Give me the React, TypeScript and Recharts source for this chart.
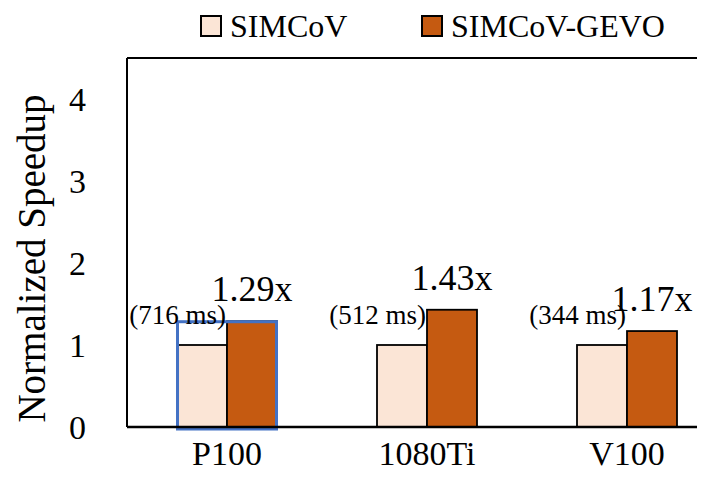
import React from 'react';
import { BarChart, Bar, XAxis, YAxis, Legend, LabelList, Label, ReferenceLine } from 'recharts';

const categories = ['P100', '1080Ti', 'V100'];
const simcovSpeedup = [1, 1, 1];
const gevoSpeedup = [1.29, 1.43, 1.17];
const baselineMs = [716, 512, 344];
const yTicks = [0, 1, 2, 3, 4];
const yMax = 4.5;
const highlighted = 'P100';

const data = categories.map((c, i) => ({
  name: c,
  simcov: simcovSpeedup[i],
  gevo: gevoSpeedup[i],
  ms: baselineMs[i],
}));

const FONT = '"Liberation Serif", "Times New Roman", serif';
const SIMCOV_FILL = '#FBE5D6';
const GEVO_FILL = '#C55A11';

const SimcovShape = (props: any) => {
  const { x, y, width, height, fill } = props;
  return <rect x={x} y={y} width={width} height={height} fill={fill} stroke="#000" strokeWidth={1.8} />;
};

const GevoShape = (props: any) => {
  const { x, y, width, height, fill, payload } = props;
  return (
    <g>
      <rect x={x} y={y} width={width} height={height} fill={fill} stroke="#000" strokeWidth={1.8} />
      {payload && payload.name === highlighted && (
        <rect
          x={x - width + 0.5}
          y={y + 0.5}
          width={width * 2 - 1}
          height={height + 1.5}
          fill="none"
          stroke="#4472C4"
          strokeWidth={3}
        />
      )}
    </g>
  );
};

const legendX = [201, 422];

const LegendContent = (props: any) => {
  const payload = props.payload || [];
  return (
    <div style={{ position: 'relative', height: 0 }}>
      <svg width={730} height={50} style={{ position: 'absolute', left: 0, top: 0, overflow: 'visible' }}>
        {payload.map((item: any, i: number) => (
          <g key={i}>
            <rect x={legendX[i]} y={16} width={20} height={20} fill={item.color} stroke="#000" strokeWidth={2} />
            <text x={legendX[i] + 29} y={37} fontFamily={FONT} fontSize={32} fill="#000">
              {item.value}
            </text>
          </g>
        ))}
      </svg>
    </div>
  );
};

export default function App() {
  return (
    <div style={{ margin: -8, width: 705, height: 491, overflow: 'hidden', background: '#fff' }}>
      <BarChart
        width={730}
        height={491}
        data={data}
        margin={{ top: 58, right: 3, bottom: 0, left: 0 }}
        barCategoryGap={50}
        barGap={0}
      >
        <XAxis
          dataKey="name"
          height={64}
          tickLine={false}
          tickSize={0}
          tickMargin={14}
          axisLine={{ stroke: '#000', strokeWidth: 2.5 }}
          tick={{ fontSize: 34, fill: '#000', fontFamily: FONT }}
        />
        <YAxis
          width={127}
          domain={[0, yMax]}
          ticks={yTicks}
          tickLine={false}
          tickSize={0}
          tickMargin={41}
          axisLine={{ stroke: '#000', strokeWidth: 2 }}
          tick={{ fontSize: 34, fill: '#000', fontFamily: FONT }}
        >
          <Label
            content={(p: any) => {
              const vb = p.viewBox || { x: 0, y: 58, width: 127, height: 369 };
              const cx = vb.x + 45;
              const cy = vb.y + vb.height / 2 + 16;
              return (
                <text
                  transform={`translate(${cx},${cy}) rotate(-90)`}
                  textAnchor="middle"
                  fontFamily={FONT}
                  fontSize={39}
                  fill="#000"
                >
                  Normalized Speedup
                </text>
              );
            }}
          />
        </YAxis>
        <ReferenceLine y={yMax} stroke="#000" strokeWidth={2} ifOverflow="visible" />
        <Legend
          verticalAlign="top"
          wrapperStyle={{ top: 0, left: 0, width: 730 }}
          content={LegendContent}
        />
        <Bar
          dataKey="simcov"
          name="SIMCoV"
          fill={SIMCOV_FILL}
          shape={SimcovShape}
          isAnimationActive={false}
        >
          <LabelList
            dataKey="ms"
            content={(p: any) => (
              <text
                x={p.x + p.width - 1}
                y={p.y - 21}
                textAnchor="end"
                fontFamily={FONT}
                fontSize={27}
                fill="#000"
              >
                {`(${p.value} ms)`}
              </text>
            )}
          />
        </Bar>
        <Bar
          dataKey="gevo"
          name="SIMCoV-GEVO"
          fill={GEVO_FILL}
          shape={GevoShape}
          isAnimationActive={false}
        >
          <LabelList
            dataKey="gevo"
            content={(p: any) => (
              <text
                x={p.x + p.width / 2}
                y={p.y - 20}
                textAnchor="middle"
                fontFamily={FONT}
                fontSize={36}
                fill="#000"
              >
                {`${Number(p.value).toFixed(2)}x`}
              </text>
            )}
          />
        </Bar>
      </BarChart>
    </div>
  );
}
